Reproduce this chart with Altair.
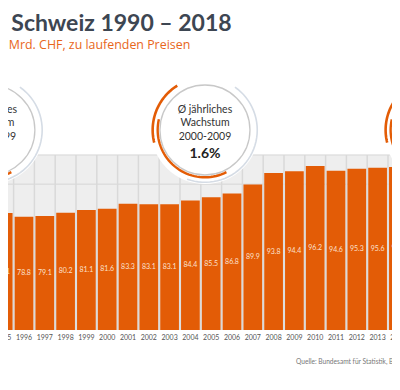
import math
import numpy as np
import altair as alt
import pandas as pd

# ---------------- data ----------------
years = list(range(1995, 2015))
values = [80.1, 78.8, 79.1, 80.2, 81.1, 81.6, 83.3, 83.1, 83.1, 84.4,
          85.5, 86.8, 89.9, 93.8, 94.4, 96.2, 94.6, 95.3, 95.6, 95.9]
grid_levels = [90, 100]
circle_line1 = ["Ø jährliches", "Ø jährliches"]
circle_line2 = ["Wachstum", "Wachstum"]
periods = ["1990-1999", "2000-2009"]
rates = ["0.8%", "1.6%"]
title_text = "l Schweiz 1990 – 2018"
subtitle_text = "n Mrd. CHF, zu laufenden Preisen"
source_text = "Quelle: Bundesamt für Statistik, BA"

# ---------------- geometry / style ----------------
W, H = 384, 322
PX_PER_YEAR = 20.8
PX_PER_UNIT = 2.917
BASE = 40
TOP = max(grid_levels)
x_lo = 1995 + (8 - 3.2) / PX_PER_YEAR
x_hi = x_lo + W / PX_PER_YEAR
y_hi = BASE + H / PX_PER_UNIT
ORANGE = "#e35c06"
FONT = "Lato"

xs = alt.Scale(domain=[x_lo, x_hi], nice=False, zero=False)
ys = alt.Scale(domain=[BASE, y_hi], nice=False, zero=False)


def X(f):
    return alt.X(f, type="quantitative", scale=xs, axis=None)


def Y(f):
    return alt.Y(f, type="quantitative", scale=ys, axis=None)


df = pd.DataFrame({"year": years, "value": values})
df["label"] = [f"{v:.1f}" for v in values]
df["ylabel"] = [str(y) for y in years]
base = alt.Chart(df).transform_calculate(
    base=f"{BASE}", top=f"{TOP}",
    x0="datum.year - 0.45", x1="datum.year + 0.45", b="datum.year + 0.5",
    mid=f"(datum.value + {BASE}) / 2")

# background band 40..100
bg = alt.Chart(pd.DataFrame({"top": [TOP], "bot": [BASE],
                             "xa": [x_lo], "xb": [x_hi]})).mark_rect(
    color="#eeeeee").encode(x=X("xa"), x2="xb", y=Y("top"), y2="bot")

hgrid = alt.Chart(pd.DataFrame({"level": grid_levels, "xa": x_lo, "xb": x_hi})).mark_rule(
    color="#d6d6d6", strokeWidth=1).encode(y=Y("level"), x=X("xa"), x2="xb")

vgrid = base.mark_rule(color="#d9d9d9", strokeWidth=1.5).encode(
    x=X("b"), y=Y("base"), y2="top")

bars = base.mark_rect(color=ORANGE, clip=True).encode(
    x=X("x0"), x2="x1", y=Y("value"), y2="base")

vlabels = base.mark_text(color="#fbe0cf", fontSize=7, font=FONT, clip=True).encode(
    x=X("year"), y=Y("mid"), text="label:N")

xlabels = base.mark_text(color="#555555", fontSize=7, font=FONT, dy=8,
                         baseline="middle").encode(
    x=X("year"), y=Y("base"), text="ylabel:N")

# ---------------- annotation circles ----------------
cy = BASE + (330 - 130) / PX_PER_UNIT
centres_x = [1994.36, 2004.70, 2015.90]
circ = pd.DataFrame({"cx": centres_x, "cy": [cy] * 3})
cbase = alt.Chart(circ)

halo = cbase.mark_point(shape="circle", size=108 ** 2, filled=True, color="white",
                        opacity=1, strokeWidth=0).encode(x=X("cx"), y=Y("cy"))
ring = cbase.mark_point(shape="circle", size=90 ** 2, filled=False, color="#c8c8c8",
                        opacity=1, strokeWidth=1.3).encode(x=X("cx"), y=Y("cy"))


# angles in degrees, clockwise from 12 o'clock
def arc_layer(r, d0, d1, color, width):
    rows = []
    for i, cxv in enumerate(centres_x):
        for k, d in enumerate(np.linspace(d0, d1, 40)):
            t = math.radians(d)
            rows.append({"cid": i, "k": k,
                         "ax": cxv + r * math.sin(t) / PX_PER_YEAR,
                         "ay": cy + r * math.cos(t) / PX_PER_UNIT})
    return alt.Chart(pd.DataFrame(rows)).mark_line(
        color=color, strokeWidth=width, strokeCap="butt").encode(
        x=X("ax"), y=Y("ay"), detail="cid:N", order="k:Q")


light = arc_layer(52.3, 35, 200, "#d5dce5", 1.6)
orange_out = arc_layer(52.3, 256, 328, ORANGE, 2.6)
orange_in = arc_layer(47.3, 153, 283, ORANGE, 2.4)

tdf = pd.DataFrame({"cx": centres_x[:2], "cy": [cy, cy], "l1": circle_line1,
                    "l2": circle_line2, "p": periods, "r": rates})
tbase = alt.Chart(tdf)
t1 = tbase.mark_text(fontSize=10.5, font=FONT, color="#333333", dy=-20).encode(
    x=X("cx"), y=Y("cy"), text="l1:N")
t2 = tbase.mark_text(fontSize=10.5, font=FONT, color="#333333", dy=-7).encode(
    x=X("cx"), y=Y("cy"), text="l2:N")
t3 = tbase.mark_text(fontSize=10.5, font=FONT, color="#333333", dy=7).encode(
    x=X("cx"), y=Y("cy"), text="p:N")
t4 = tbase.mark_text(fontSize=14, font=FONT, fontWeight="bold", color="#222222", dy=24).encode(
    x=X("cx"), y=Y("cy"), text="r:N")

# title, subtitle, source
title = alt.Chart(pd.DataFrame({"t": [title_text]})).mark_text(
    font=FONT, fontSize=23, fontWeight="bold", color="#3d4652", align="left",
    baseline="alphabetic").encode(text="t:N", x=alt.value(-8), y=alt.value(23))
subtitle = alt.Chart(pd.DataFrame({"t": [subtitle_text]})).mark_text(
    font="Open Sans", fontSize=12.4, color="#e8661a", align="left",
    baseline="alphabetic").encode(text="t:N", x=alt.value(-10), y=alt.value(41))
source = alt.Chart(pd.DataFrame({"t": [source_text]})).mark_text(
    font=FONT, fontSize=6.6, color="#777777", align="left",
    baseline="alphabetic").encode(text="t:N", x=alt.value(288), y=alt.value(356))

chart = alt.layer(
    bg, hgrid, vgrid, halo, ring, light, orange_out, orange_in,
    bars, vlabels, xlabels, t1, t2, t3, t4, title, subtitle, source
).properties(
    width=W, height=H,
    autosize=alt.AutoSizeParams(type="none"),
    padding={"left": 0, "top": 0, "right": 0, "bottom": 52},
).configure_view(strokeWidth=0)

chart.save("out.html", embed_options={"renderer": "svg", "actions": False})
